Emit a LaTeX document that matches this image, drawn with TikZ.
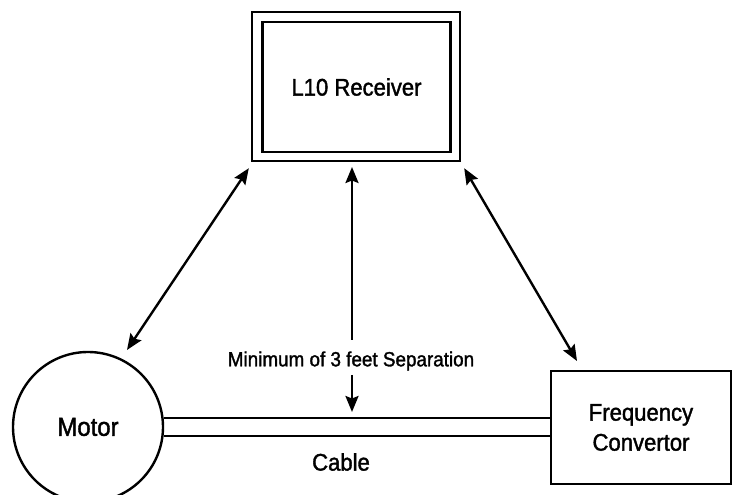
\documentclass[tikz,border=0pt]{standalone}
\usepackage{fontspec}
\setmainfont[FakeStretch=0.92,FakeBold=1.5]{Liberation Sans}
\usetikzlibrary{arrows.meta,calc}
\begin{document}
\begin{tikzpicture}[x=1pt,y=1pt,line width=2.4pt,
  box/.style={draw, line width=2.4pt, inner sep=0pt, align=center, font=\fontsize{24}{30}\selectfont},
  lbl/.style={inner sep=0pt, font=\fontsize{24}{30}\selectfont},
  tip/.tip={Stealth[length=16pt,width=13pt,inset=2.5pt]},
  arr/.style={tip-tip},
  onearr/.style={-tip}]
\useasboundingbox (0,0) rectangle (734,495);
\node[box, minimum width=208pt, minimum height=149pt] (rec) at (356,408.5) {};
\node[box, minimum width=188pt, minimum height=130pt] (recin) at (356.5,408) {L10 Receiver};
\node[box, circle, minimum size=150pt, font=\fontsize{26}{30}\selectfont] (motor) at (88,68) {Motor};
\node[box, minimum width=180pt, minimum height=113pt] (fc) at (641,67.5) {Frequency\\Convertor};
\node[lbl, font=\fontsize{20.5}{24}\selectfont] (min) at (351,134) {Minimum of 3 feet Separation};
\node[lbl] (cable) at (341,33) {Cable};
% cable lines
\draw (motor.7) -- (motor.7 -| fc.west);
\draw (motor.-7) -- (motor.-7 -| fc.west);
% arrows
\coordinate (la) at (127,145);
\coordinate (lb) at ($(rec.south west)+(-2,-6)$);
\coordinate (ra) at ($(rec.south east)+(3,-6)$);
\coordinate (rb) at (577,134);
\coordinate (ma) at (352,155);
\coordinate (mb) at (352,328);
\coordinate (da) at (352,120);
\coordinate (db) at (352,83);
\draw[arr] (la) -- (lb);
\draw[arr] (ra) -- (rb);
\draw[onearr] (ma) -- (mb);
\draw[onearr] (da) -- (db);
\end{tikzpicture}
\end{document}
